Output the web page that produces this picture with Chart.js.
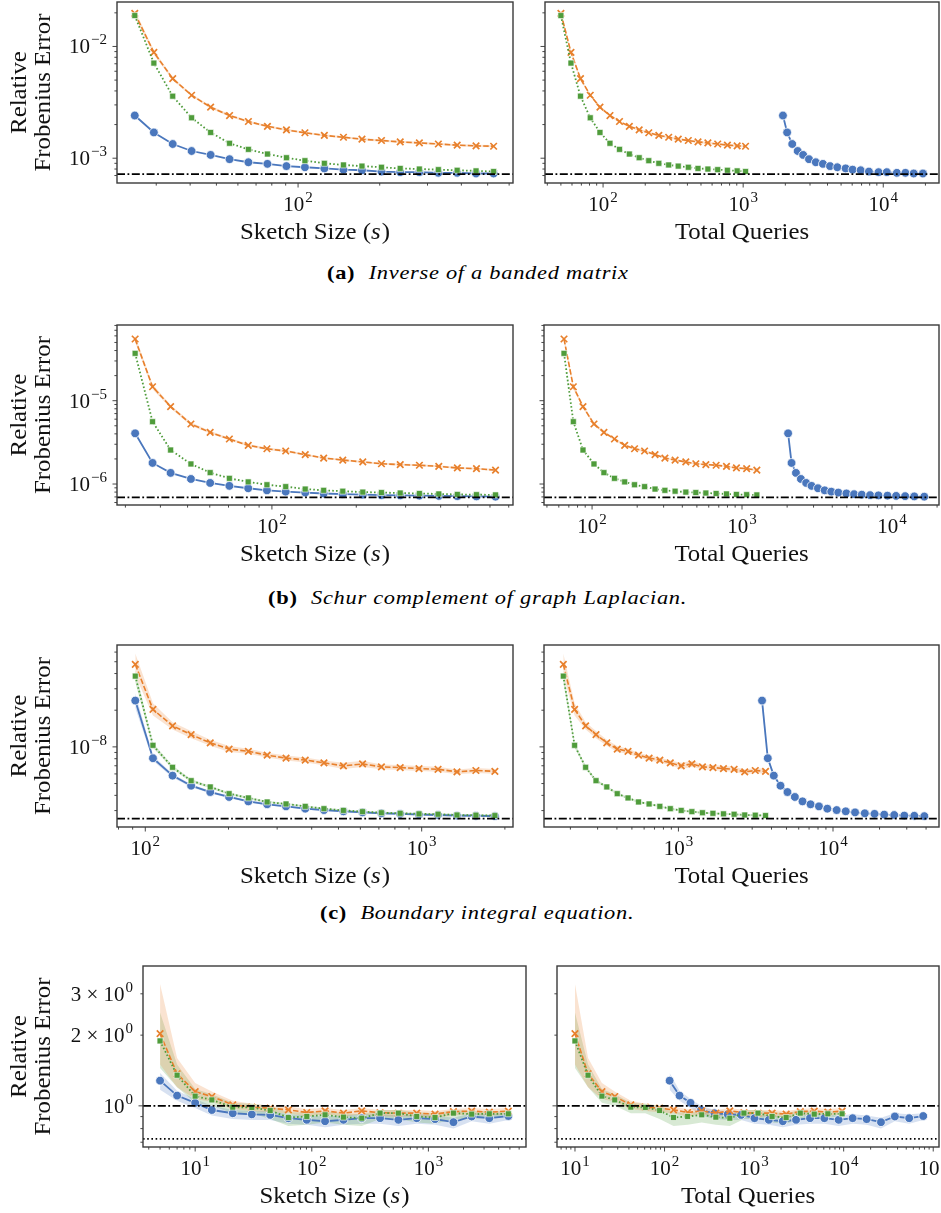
<!DOCTYPE html>
<html><head><meta charset="utf-8">
<script src="https://cdn.jsdelivr.net/npm/chart.js@4.4.1/dist/chart.umd.min.js"></script>
<style>
html,body{margin:0;padding:0;background:#fff;}
body{width:941px;height:1213px;position:relative;overflow:hidden;font-family:'Liberation Serif',serif;}
canvas{position:absolute;}
.cap{position:absolute;left:7px;width:941px;text-align:center;font-size:19px;line-height:20px;color:#000;white-space:nowrap;font-family:'Liberation Serif',serif;}
.cap span{display:inline-block;transform:scaleX(1.18);letter-spacing:0.6px;}
.cap b{font-weight:bold;margin-right:6px;}
.cap i{font-style:italic;}
</style></head><body>
<div class="cap" style="top:263px"><span><b>(a)</b> <i>Inverse of a banded matrix</i></span></div>
<div class="cap" style="top:588px"><span><b>(b)</b> <i>Schur complement of graph Laplacian.</i></span></div>
<div class="cap" style="top:903px"><span><b>(c)</b> <i>Boundary integral equation.</i></span></div>
<script>
// ---------------- DATA ----------------
// (a) Inverse of a banded matrix
const A_sketch = [25, 29.4, 34.5, 40.5, 47.6, 55.9, 65.6, 77.1, 90.6, 106, 125, 147, 172, 203, 238, 280, 329, 386, 453, 526];
const A_queriesTwoSided = [50, 59, 69, 81, 95, 112, 131, 154, 181, 212, 250, 294, 344, 406, 476, 560, 658, 772, 906, 1040];
const A_queriesBlue = [1923, 2060, 2240, 2450, 2680, 2950, 3300, 3710, 4170, 4700, 5390, 6040, 6900, 7900, 9260, 10600, 12500, 14400, 16500, 19200];
const A_blue = [0.00241, 0.0017, 0.00134, 0.00116, 0.00107, 0.00098, 0.00092, 0.00089, 0.00085, 0.00083, 0.00081, 0.00079, 0.00078, 0.00076, 0.00075, 0.00075, 0.00074, 0.00074, 0.00073, 0.00073];
const A_orange = [0.0198, 0.00885, 0.00515, 0.00366, 0.00286, 0.00241, 0.00213, 0.00193, 0.00179, 0.00169, 0.0016, 0.00154, 0.00148, 0.00144, 0.0014, 0.00137, 0.00134, 0.00131, 0.00129, 0.00128];
const A_green = [0.0189, 0.0071, 0.00359, 0.0023, 0.0017, 0.00136, 0.0012, 0.00109, 0.00101, 0.00095, 0.0009, 0.00087, 0.00085, 0.00083, 0.00081, 0.0008, 0.00079, 0.00078, 0.00077, 0.00076];
const A_orangeSpread = [0.03, 0.02, 0.015, 0.012, 0.012, 0.012, 0.01, 0.01, 0.01, 0.01, 0.01, 0.01, 0.01, 0.01, 0.01, 0.01, 0.01, 0.01, 0.01, 0.01];
const A_reference = 7.2e-4;

// (b) Schur complement of graph Laplacian
const B_sketch = [32.5, 37.5, 43.5, 51.4, 60.2, 70.5, 82.3, 96, 112, 131.5, 153, 179, 211, 246, 287, 336, 394, 459, 537, 628];
const B_queriesTwoSided = [65, 75, 87, 103, 120, 141, 165, 192, 224, 263, 306, 358, 422, 492, 574, 672, 788, 918, 1074, 1256];
const B_queriesBlue = [2030, 2140, 2290, 2470, 2680, 2910, 3210, 3560, 3940, 4390, 4970, 5590, 6290, 7150, 8130, 9340, 10670, 12250, 14090, 16430];
const B_blue = [4.06e-6, 1.79e-6, 1.36e-6, 1.15e-6, 1.03e-6, 9.5e-7, 8.9e-7, 8.4e-7, 8.1e-7, 7.9e-7, 7.7e-7, 7.55e-7, 7.45e-7, 7.35e-7, 7.3e-7, 7.25e-7, 7.2e-7, 7.15e-7, 7.1e-7, 7.05e-7];
const B_orange = [5.5e-5, 1.47e-5, 8.5e-6, 5.25e-6, 4.17e-6, 3.47e-6, 2.91e-6, 2.65e-6, 2.49e-6, 2.25e-6, 2.05e-6, 1.94e-6, 1.84e-6, 1.75e-6, 1.71e-6, 1.68e-6, 1.63e-6, 1.56e-6, 1.53e-6, 1.47e-6];
const B_green = [3.7e-5, 5.6e-6, 2.56e-6, 1.74e-6, 1.37e-6, 1.17e-6, 1.06e-6, 9.8e-7, 9.3e-7, 8.7e-7, 8.4e-7, 8.2e-7, 8.0e-7, 7.9e-7, 7.8e-7, 7.7e-7, 7.6e-7, 7.5e-7, 7.45e-7, 7.4e-7];
const B_orangeSpread = [0.04, 0.03, 0.02, 0.02, 0.015, 0.015, 0.015, 0.015, 0.015, 0.012, 0.012, 0.012, 0.012, 0.012, 0.012, 0.012, 0.012, 0.012, 0.012, 0.012];
const B_reference = 6.9e-7;

// (c) Boundary integral equation
const C_sketch = [92, 106.6, 125.5, 146.5, 171.8, 201, 236, 276, 323, 379, 443, 521, 611, 715, 836, 978, 1146, 1342, 1571, 1840];
const C_queriesTwoSided = [180, 213, 251, 293, 344, 402, 472, 552, 646, 758, 886, 1042, 1222, 1430, 1672, 1956, 2292, 2684, 3142, 3660];
const C_queriesBlue = [3475, 3785, 4140, 4575, 5075, 5665, 6350, 7160, 8110, 9190, 10560, 12090, 13890, 16060, 18560, 21440, 24890, 28920, 33580, 38990];
const C_blue = [2.4e-8, 8.07e-9, 5.81e-9, 4.8e-9, 4.26e-9, 3.88e-9, 3.57e-9, 3.38e-9, 3.25e-9, 3.11e-9, 3.03e-9, 2.96e-9, 2.9e-9, 2.85e-9, 2.82e-9, 2.78e-9, 2.76e-9, 2.73e-9, 2.72e-9, 2.7e-9];
const C_orange = [4.75e-8, 2.03e-8, 1.49e-8, 1.26e-8, 1.08e-8, 9.6e-9, 9.2e-9, 8.55e-9, 8.1e-9, 7.8e-9, 7.4e-9, 6.98e-9, 7.25e-9, 6.85e-9, 6.77e-9, 6.64e-9, 6.55e-9, 6.24e-9, 6.4e-9, 6.3e-9];
const C_green = [3.81e-8, 1.03e-8, 6.8e-9, 5.28e-9, 4.69e-9, 4.13e-9, 3.81e-9, 3.53e-9, 3.4e-9, 3.25e-9, 3.11e-9, 3.01e-9, 2.94e-9, 2.88e-9, 2.85e-9, 2.82e-9, 2.8e-9, 2.76e-9, 2.75e-9, 2.73e-9];
const C_blueSpread = [0.06, 0.02, 0.015, 0.012, 0.01, 0.01, 0.01, 0.008, 0.008, 0.008, 0.008, 0.008, 0.008, 0.008, 0.008, 0.008, 0.008, 0.008, 0.008, 0.008];
const C_orangeSpread = [0.09, 0.05, 0.03, 0.03, 0.025, 0.025, 0.02, 0.02, 0.02, 0.02, 0.02, 0.025, 0.025, 0.02, 0.02, 0.02, 0.02, 0.02, 0.02, 0.02];
const C_greenSpread = [0.05, 0.02, 0.015, 0.012, 0.01, 0.01, 0.01, 0.008, 0.008, 0.008, 0.008, 0.008, 0.008, 0.008, 0.008, 0.008, 0.008, 0.008, 0.008, 0.008];
const C_reference = 2.58e-9;

// (d) fourth problem
const D_sketch = [5, 7, 10, 13.9, 21, 30.6, 44, 63, 90.6, 130, 187, 268, 385, 553, 794, 1140, 1640, 2350, 3330, 4850];
const D_queriesTwoSided = [10, 14, 20, 27.8, 42, 61, 88, 126, 181, 260, 374, 536, 770, 1106, 1588, 2280, 3280, 4700, 6660, 9600];
const D_queriesBlue = [114, 147, 195, 256, 361, 508, 716, 1010, 1460, 2090, 2940, 4210, 6090, 8790, 12590, 18060, 26100, 37300, 53900, 77300];
const D_blue = [1.28, 1.106, 1.03, 0.96, 0.93, 0.92, 0.915, 0.886, 0.872, 0.86, 0.872, 0.886, 0.886, 0.872, 0.886, 0.878, 0.852, 0.901, 0.886, 0.905];
const D_orange = [2.03, 1.37, 1.15, 1.096, 1.01, 0.987, 0.977, 0.962, 0.937, 0.952, 0.931, 0.952, 0.935, 0.931, 0.931, 0.922, 0.945, 0.95, 0.94, 0.95];
const D_green = [1.89, 1.35, 1.1, 1.06, 0.987, 0.984, 0.955, 0.892, 0.901, 0.916, 0.895, 0.886, 0.931, 0.931, 0.901, 0.892, 0.931, 0.922, 0.925, 0.925];
const D_blueLow = [1.17, 1.05, 0.98, 0.91, 0.88, 0.87, 0.87, 0.84, 0.83, 0.81, 0.83, 0.84, 0.84, 0.82, 0.84, 0.83, 0.8, 0.86, 0.84, 0.87];
const D_blueHigh = [1.38, 1.16, 1.07, 1.0, 0.96, 0.95, 0.95, 0.92, 0.91, 0.9, 0.91, 0.92, 0.92, 0.91, 0.92, 0.91, 0.89, 0.93, 0.92, 0.93];
const D_orangeLow = [1.5, 1.2, 1.07, 1.04, 0.97, 0.95, 0.94, 0.93, 0.9, 0.92, 0.9, 0.92, 0.9, 0.9, 0.9, 0.89, 0.91, 0.92, 0.91, 0.92];
const D_orangeHigh = [3.3, 1.6, 1.25, 1.15, 1.05, 1.02, 1.0, 0.99, 0.97, 0.98, 0.96, 0.98, 0.96, 0.96, 0.96, 0.95, 0.97, 0.98, 0.97, 0.98];
const D_greenLow = [1.45, 1.2, 1.03, 1.0, 0.93, 0.93, 0.88, 0.82, 0.83, 0.85, 0.83, 0.82, 0.88, 0.88, 0.85, 0.84, 0.88, 0.88, 0.89, 0.9];
const D_greenHigh = [2.5, 1.5, 1.18, 1.12, 1.03, 1.02, 1.0, 0.94, 0.94, 0.95, 0.93, 0.92, 0.96, 0.96, 0.94, 0.93, 0.96, 0.95, 0.95, 0.95];
const D_reference = 1.0;
const D_reference2 = 0.724;

// tick labels
const A_yTicks = [1e-3, 1e-2], A_yLabels = ['10^−3', '10^−2'];
const B_yTicks = [1e-6, 1e-5], B_yLabels = ['10^−6', '10^−5'];
const C_yTicks = [1e-8], C_yLabels = ['10^−8'];
const D_yTicks = [1, 2, 3], D_yLabels = ['10^0', '2 × 10^0', '3 × 10^0'];
const A_xTicksL = [100], A_xLabelsL = ['10^2'];
const A_xTicksR = [100, 1000, 10000], A_xLabelsR = ['10^2', '10^3', '10^4'];
const B_xTicksL = [100], B_xLabelsL = ['10^2'];
const B_xTicksR = [100, 1000, 10000], B_xLabelsR = ['10^2', '10^3', '10^4'];
const C_xTicksL = [100, 1000], C_xLabelsL = ['10^2', '10^3'];
const C_xTicksR = [1000, 10000], C_xLabelsR = ['10^3', '10^4'];
const D_xTicksL = [10, 100, 1000], D_xLabelsL = ['10^1', '10^2', '10^3'];
const D_xTicksR = [10, 100, 1000, 10000, 100000], D_xLabelsR = ['10^1', '10^2', '10^3', '10^4', '10^5'];

// ---------------- STYLE ----------------
const BLUE = '#4a77bd', ORANGE = '#e8802c', GREEN = '#4f9c3b';
const FONT = '"Liberation Serif", "DejaVu Serif", serif';
const TITLE_PX = 23, STRETCH = 1.08;

function pts(xs, ys) { return xs.map((x, i) => ({x: x, y: ys[i]})); }
function blueSet(xs, ys) {
  return {data: pts(xs, ys), borderColor: BLUE, backgroundColor: BLUE, borderWidth: 1.8,
    pointStyle: 'circle', pointRadius: 4.4, pointBorderColor: '#fff', pointBorderWidth: 0.8, fill: false};
}
function orangeSet(xs, ys) {
  return {data: pts(xs, ys), borderColor: ORANGE, backgroundColor: ORANGE, borderWidth: 1.6, borderDash: [5.5, 2.2],
    pointStyle: 'crossRot', pointRadius: 4.6, pointBorderColor: ORANGE, pointBorderWidth: 1.7, fill: false};
}
function greenSet(xs, ys) {
  return {data: pts(xs, ys), borderColor: GREEN, backgroundColor: GREEN, borderWidth: 1.8, borderDash: [1.6, 2.2],
    pointStyle: 'rect', pointRadius: 4.2, pointBorderColor: '#fff', pointBorderWidth: 0.6, fill: false};
}
function refSet(xmin, xmax, y, dash) {
  return {data: [{x: xmin, y: y}, {x: xmax, y: y}], borderColor: '#000', borderWidth: 1.7, borderDash: dash,
    pointRadius: 0, fill: false};
}
function bandSets(xs, lo, hi, color) {
  return [
    {data: pts(xs, lo), borderWidth: 0, pointRadius: 0, fill: false, borderColor: 'rgba(0,0,0,0)'},
    {data: pts(xs, hi), borderWidth: 0, pointRadius: 0, fill: '-1', borderColor: 'rgba(0,0,0,0)', backgroundColor: color}
  ];
}
function spreadBand(xs, ys, sp, color) {
  return bandSets(xs, ys.map((y, i) => y / Math.pow(10, sp[i])), ys.map((y, i) => y * Math.pow(10, sp[i])), color);
}
const BAND_B = 'rgba(74,119,189,0.22)', BAND_O = 'rgba(232,128,44,0.22)', BAND_G = 'rgba(79,156,59,0.22)';
const DASHDOT = [8, 2.5, 1.8, 2.5], DOTTED = [1.6, 2.6];

function logTicks(min, max) {
  const out = [];
  for (let e = Math.floor(Math.log10(min)); e <= Math.ceil(Math.log10(max)); e++) {
    for (let k = 1; k < 10; k++) {
      const v = k * Math.pow(10, e);
      if (v >= min * 0.9999 && v <= max * 1.0001) out.push({value: v, major: k === 1});
    }
  }
  return out;
}

function drawPow(ctx, str, x, y, align) {
  const parts = str.split('^');
  const base = parts[0], sup = parts[1] || '';
  ctx.font = '21px ' + FONT;
  const wb = ctx.measureText(base).width;
  ctx.font = '15px ' + FONT;
  const ws = sup ? ctx.measureText(sup).width + 1 : 0;
  const w = wb + ws;
  const x0 = align === 'center' ? x - w / 2 : (align === 'right' ? x - w : x);
  ctx.textAlign = 'left'; ctx.textBaseline = 'alphabetic';
  ctx.font = '21px ' + FONT; ctx.fillText(base, x0, y);
  if (sup) { ctx.font = '15px ' + FONT; ctx.fillText(sup, x0 + wb + 1, y - 9); }
}

function stretchText(ctx, text, x, y) {
  ctx.save(); ctx.translate(x, y); ctx.scale(STRETCH, 1); ctx.fillText(text, 0, 0); ctx.restore();
}

const framePlugin = {
  id: 'frame',
  afterDraw(chart, args, o) {
    const ctx = chart.ctx, a = chart.chartArea, sx = chart.scales.x, sy = chart.scales.y;
    ctx.save();
    ctx.strokeStyle = '#333'; ctx.lineWidth = 0.9;
    sx.ticks.forEach(t => {
      const p = sx.getPixelForValue(t.value);
      if (p < a.left - 0.5 || p > a.right + 0.5) return;
      const len = t.major ? 4.5 : 2.6;
      ctx.beginPath(); ctx.moveTo(p, a.bottom); ctx.lineTo(p, a.bottom + len); ctx.stroke();
    });
    sy.ticks.forEach(t => {
      const p = sy.getPixelForValue(t.value);
      if (p < a.top - 0.5 || p > a.bottom + 0.5) return;
      const len = t.major ? 4.5 : 2.6;
      ctx.beginPath(); ctx.moveTo(a.left, p); ctx.lineTo(a.left - len, p); ctx.stroke();
    });
    ctx.lineWidth = 1.4; ctx.strokeStyle = '#3a3a3a';
    ctx.strokeRect(a.left, a.top, a.right - a.left, a.bottom - a.top);
    ctx.fillStyle = '#111';
    o.xTicks.forEach((v, i) => drawPow(ctx, o.xLabels[i], sx.getPixelForValue(v), a.bottom + 28, 'center'));
    if (o.yLabels) o.yTicks.forEach((v, i) => drawPow(ctx, o.yLabels[i], a.left - 10, sy.getPixelForValue(v) + 7, 'right'));
    // x title
    const cx = (a.left + a.right) / 2, ty = a.bottom + 56;
    ctx.textBaseline = 'alphabetic';
    if (o.xTitle === 'sketch') {
      const segs = [['Sketch Size (', ''], ['s', 'italic '], [')', '']];
      let tw = 0;
      segs.forEach(s => { ctx.font = s[1] + TITLE_PX + 'px ' + FONT; s.push((ctx.measureText(s[0]).width + (s[1] ? 1 : 0)) * STRETCH); tw += s[2]; });
      let xx = cx - tw / 2;
      ctx.textAlign = 'left';
      segs.forEach(s => { ctx.font = s[1] + TITLE_PX + 'px ' + FONT; stretchText(ctx, s[0], xx, ty); xx += s[2]; });
    } else {
      ctx.font = TITLE_PX + 'px ' + FONT; ctx.textAlign = 'center'; stretchText(ctx, 'Total Queries', cx, ty);
    }
    if (o.yTitle) {
      const cy = (a.top + a.bottom) / 2;
      ctx.font = TITLE_PX + 'px ' + FONT; ctx.textAlign = 'center'; ctx.textBaseline = 'middle';
      [['Relative', 20], ['Frobenius Error', 44]].forEach(l => {
        ctx.save(); ctx.translate(l[1], cy); ctx.rotate(-Math.PI / 2); ctx.scale(STRETCH, 1); ctx.fillText(l[0], 0, 0); ctx.restore();
      });
    }
    ctx.restore();
  }
};

function makePanel(box, canvasLeft, canvasRight, xr, yr, datasets, frame) {
  const cv = document.createElement('canvas');
  const T = Math.max(0, box.t - 8);
  const W = canvasRight - canvasLeft, H = box.b + 72 - T;
  cv.width = W; cv.height = H;
  cv.style.left = canvasLeft + 'px'; cv.style.top = T + 'px';
  cv.style.width = W + 'px'; cv.style.height = H + 'px';
  document.body.appendChild(cv);
  const yW = box.l - canvasLeft, padTop = box.t - T, padRight = canvasRight - box.r;
  new Chart(cv, {
    type: 'line',
    data: {datasets: datasets},
    options: {
      responsive: false, animation: false, devicePixelRatio: 1,
      layout: {autoPadding: false, padding: {top: padTop, right: padRight, left: 0, bottom: 0}},
      elements: {line: {tension: 0}},
      plugins: {legend: {display: false}, tooltip: {enabled: false}, frame: frame},
      scales: {
        x: {type: 'logarithmic', min: xr[0], max: xr[1], grid: {display: false}, border: {display: false},
            ticks: {display: false}, afterBuildTicks: s => { s.ticks = logTicks(xr[0], xr[1]); },
            afterFit: s => { s.height = 72; }},
        y: {type: 'logarithmic', min: yr[0], max: yr[1], grid: {display: false}, border: {display: false},
            ticks: {display: false}, afterBuildTicks: s => { s.ticks = logTicks(yr[0], yr[1]); },
            afterFit: s => { s.width = yW; }}
      }
    },
    plugins: [framePlugin]
  });
}

// ---------------- PANELS ----------------
// (a)
{
  const yr = [6.1e-4, 0.025];
  const xl = [21.5, 620], xrr = [38.5, 25000];
  makePanel({l: 117, r: 513, t: 2, b: 183}, 0, 519, xl, yr, [
    refSet(xl[0], xl[1], A_reference, DASHDOT),
    greenSet(A_sketch, A_green), orangeSet(A_sketch, A_orange), blueSet(A_sketch, A_blue),
    ...spreadBand(A_sketch, A_orange, A_orangeSpread, BAND_O)
  ], {xTicks: A_xTicksL, xLabels: A_xLabelsL, yTicks: A_yTicks, yLabels: A_yLabels, xTitle: 'sketch', yTitle: true});
  makePanel({l: 545, r: 939, t: 2, b: 183}, 528, 941, xrr, yr, [
    refSet(xrr[0], xrr[1], A_reference, DASHDOT),
    greenSet(A_queriesTwoSided, A_green), orangeSet(A_queriesTwoSided, A_orange), blueSet(A_queriesBlue, A_blue),
    ...spreadBand(A_queriesTwoSided, A_orange, A_orangeSpread, BAND_O)
  ], {xTicks: A_xTicksR, xLabels: A_xLabelsR, yTicks: A_yTicks, yLabels: null, xTitle: 'queries', yTitle: false});
}
// (b)
{
  const yr = [5.6e-7, 8.1e-5];
  const xl = [28, 725], xrr = [47.8, 20600];
  makePanel({l: 117, r: 513, t: 325, b: 505}, 0, 519, xl, yr, [
    refSet(xl[0], xl[1], B_reference, DASHDOT),
    greenSet(B_sketch, B_green), orangeSet(B_sketch, B_orange), blueSet(B_sketch, B_blue),
    ...spreadBand(B_sketch, B_orange, B_orangeSpread, BAND_O)
  ], {xTicks: B_xTicksL, xLabels: B_xLabelsL, yTicks: B_yTicks, yLabels: B_yLabels, xTitle: 'sketch', yTitle: true});
  makePanel({l: 544, r: 939, t: 325, b: 505}, 528, 941, xrr, yr, [
    refSet(xrr[0], xrr[1], B_reference, DASHDOT),
    greenSet(B_queriesTwoSided, B_green), orangeSet(B_queriesTwoSided, B_orange), blueSet(B_queriesBlue, B_blue),
    ...spreadBand(B_queriesTwoSided, B_orange, B_orangeSpread, BAND_O)
  ], {xTicks: B_xTicksR, xLabels: B_xLabelsR, yTicks: B_yTicks, yLabels: null, xTitle: 'queries', yTitle: false});
}
// (c)
{
  const yr = [2.2e-9, 6.86e-8];
  const xl = [79, 2140], xrr = [135, 48500];
  makePanel({l: 117, r: 513, t: 645, b: 827}, 0, 519, xl, yr, [
    refSet(xl[0], xl[1], C_reference, DASHDOT),
    greenSet(C_sketch, C_green), orangeSet(C_sketch, C_orange), blueSet(C_sketch, C_blue),
    ...spreadBand(C_sketch, C_orange, C_orangeSpread, BAND_O),
    ...spreadBand(C_sketch, C_green, C_greenSpread, BAND_G),
    ...spreadBand(C_sketch, C_blue, C_blueSpread, BAND_B)
  ], {xTicks: C_xTicksL, xLabels: C_xLabelsL, yTicks: C_yTicks, yLabels: C_yLabels, xTitle: 'sketch', yTitle: true});
  makePanel({l: 544, r: 939, t: 645, b: 827}, 528, 941, xrr, yr, [
    refSet(xrr[0], xrr[1], C_reference, DASHDOT),
    greenSet(C_queriesTwoSided, C_green), orangeSet(C_queriesTwoSided, C_orange), blueSet(C_queriesBlue, C_blue),
    ...spreadBand(C_queriesTwoSided, C_orange, C_orangeSpread, BAND_O),
    ...spreadBand(C_queriesTwoSided, C_green, C_greenSpread, BAND_G),
    ...spreadBand(C_queriesBlue, C_blue, C_blueSpread, BAND_B)
  ], {xTicks: C_xTicksR, xLabels: C_xLabelsR, yTicks: C_yTicks, yLabels: null, xTitle: 'queries', yTitle: false});
}
// (d)
{
  const yr = [0.668, 3.94];
  const xl = [3.57, 6870], xrr = [6.3, 116000];
  makePanel({l: 143, r: 526, t: 966, b: 1147}, 0, 532, xl, yr, [
    refSet(xl[0], xl[1], D_reference, DASHDOT), refSet(xl[0], xl[1], D_reference2, DOTTED),
    greenSet(D_sketch, D_green), orangeSet(D_sketch, D_orange), blueSet(D_sketch, D_blue),
    ...bandSets(D_sketch, D_orangeLow, D_orangeHigh, BAND_O),
    ...bandSets(D_sketch, D_greenLow, D_greenHigh, BAND_G),
    ...bandSets(D_sketch, D_blueLow, D_blueHigh, BAND_B)
  ], {xTicks: D_xTicksL, xLabels: D_xLabelsL, yTicks: D_yTicks, yLabels: D_yLabels, xTitle: 'sketch', yTitle: true});
  makePanel({l: 557, r: 939, t: 966, b: 1147}, 540, 941, xrr, yr, [
    refSet(xrr[0], xrr[1], D_reference, DASHDOT), refSet(xrr[0], xrr[1], D_reference2, DOTTED),
    greenSet(D_queriesTwoSided, D_green), orangeSet(D_queriesTwoSided, D_orange), blueSet(D_queriesBlue, D_blue),
    ...bandSets(D_queriesTwoSided, D_orangeLow, D_orangeHigh, BAND_O),
    ...bandSets(D_queriesTwoSided, D_greenLow, D_greenHigh, BAND_G),
    ...bandSets(D_queriesBlue, D_blueLow, D_blueHigh, BAND_B)
  ], {xTicks: D_xTicksR, xLabels: D_xLabelsR, yTicks: D_yTicks, yLabels: null, xTitle: 'queries', yTitle: false});
}
</script>
</body></html>
